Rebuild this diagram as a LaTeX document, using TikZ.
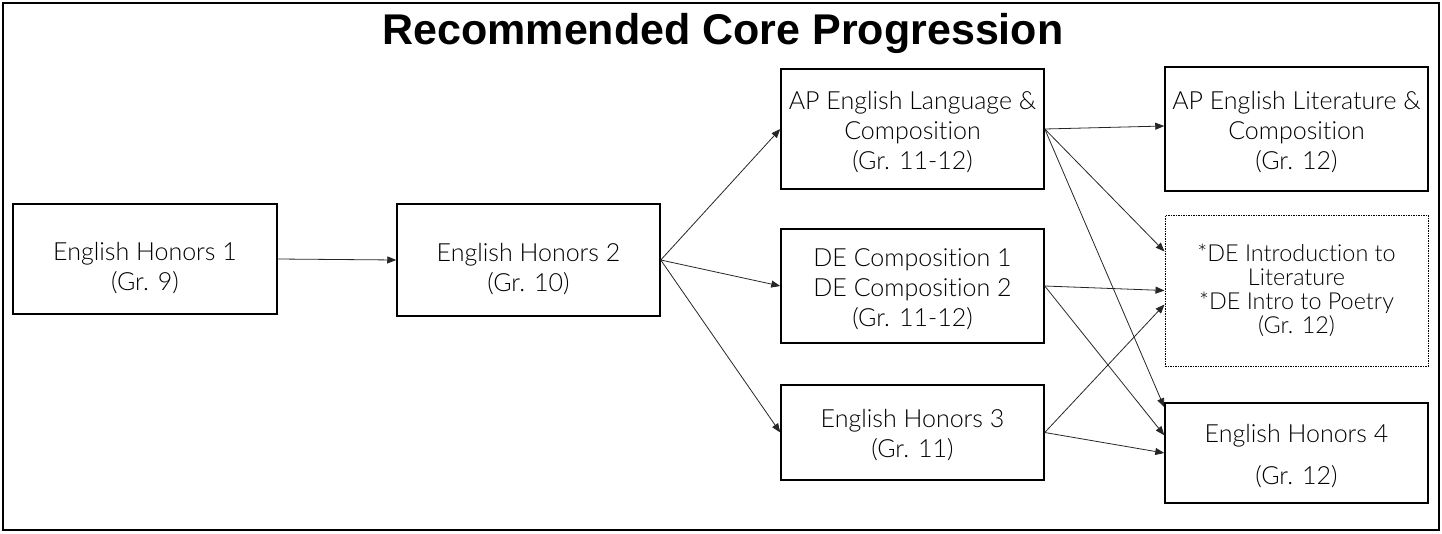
\documentclass[tikz,border=0pt]{standalone}
\usepackage{fontspec}
\setmainfont{Liberation Sans}
\IfFontExistsTF{Lato Light}{\newfontfamily\boxfont{Lato Light}[Ligatures=NoCommon]}{\newfontfamily\boxfont{Lato}[Ligatures=NoCommon]}
\newfontfamily\titlefont{Liberation Sans}
\usetikzlibrary{arrows.meta}
\begin{document}
\begin{tikzpicture}[x=1pt,y=-1pt,
  course/.style={draw=black, line width=1.5pt, rectangle, inner sep=0pt},
  txt/.style={align=center, inner sep=0pt, font=\boxfont\fontsize{25}{30}\selectfont, text=black},
  link/.style={-{Triangle[length=9pt,width=7pt]}, line width=0.8pt, draw=black!85}
]
\useasboundingbox (0,0) rectangle (1442,533);
\draw[line width=2.5pt] (3,3) rectangle (1439,530);
\node[font=\titlefont\bfseries\fontsize{43}{50}\selectfont, anchor=base] (title) at (723,44) {Recommended Core Progression};

\node[course, minimum width=264pt, minimum height=110pt] (e1) at (145,259) {};
\node[course, minimum width=263pt, minimum height=112pt] (e2) at (528.5,260) {};
\node[course, minimum width=263pt, minimum height=120pt] (aplang) at (912.5,129) {};
\node[course, minimum width=263pt, minimum height=114pt] (decomp) at (912.5,286) {};
\node[course, minimum width=263pt, minimum height=95pt] (eh3) at (912.5,432.5) {};
\node[course, minimum width=263pt, minimum height=124pt] (aplit) at (1296.5,129) {};
\node[course, densely dotted, line width=1pt, minimum width=263pt, minimum height=151pt] (intro) at (1296.5,290.5) {};
\node[course, minimum width=263pt, minimum height=100pt] (eh4) at (1296.5,453) {};

\node[txt] (e1t) at ([yshift=-9pt]e1.center) {English Honors 1\\(Gr. 9)};
\node[txt] (e2t) at ([yshift=-9pt]e2.center) {English Honors 2\\(Gr. 10)};
\node[txt] (aplangt) at ([yshift=-3pt]aplang.center) {AP English Language \&\\Composition\\(Gr. 11-12)};
\node[txt] (decompt) at ([yshift=-3pt]decomp.center) {DE Composition 1\\DE Composition 2\\(Gr. 11-12)};
\node[txt] (eh3t) at ([yshift=-3pt]eh3.center) {English Honors 3\\(Gr. 11)};
\node[txt] (aplitt) at ([yshift=-3pt]aplit.center) {AP English Literature \&\\Composition\\(Gr. 12)};
\node[txt, font=\boxfont\fontsize{23.4}{24}\selectfont] (introt) at (intro.center)
  {*DE Introduction to\\Literature\\*DE Intro to Poetry\\(Gr. 12)};
\node[txt] (eh4t) at ([yshift=-3pt]eh4.center) {English Honors 4\\[12pt](Gr. 12)};

\draw[link] (e1.east) -- (e2.west);
\draw[link] (e2.east) -- (aplang.west);
\draw[link] (e2.east) -- (decomp.west);
\draw[link] (e2.east) -- (eh3.west);
\draw[link] (aplang.east) -- ([yshift=3pt]aplit.west);
\draw[link] (aplang.east) -- ([yshift=-37pt]intro.north west);
\draw[link] (aplang.east) -- ([yshift=-5pt]eh4.north west);
\draw[link] (decomp.east) -- (intro.west);
\draw[link] (decomp.east) -- ([yshift=-33pt]eh4.north west);
\draw[link] (eh3.east) -- ([yshift=-90pt]intro.north west);
\draw[link] (eh3.east) -- (eh4.west);
\end{tikzpicture}
\end{document}
